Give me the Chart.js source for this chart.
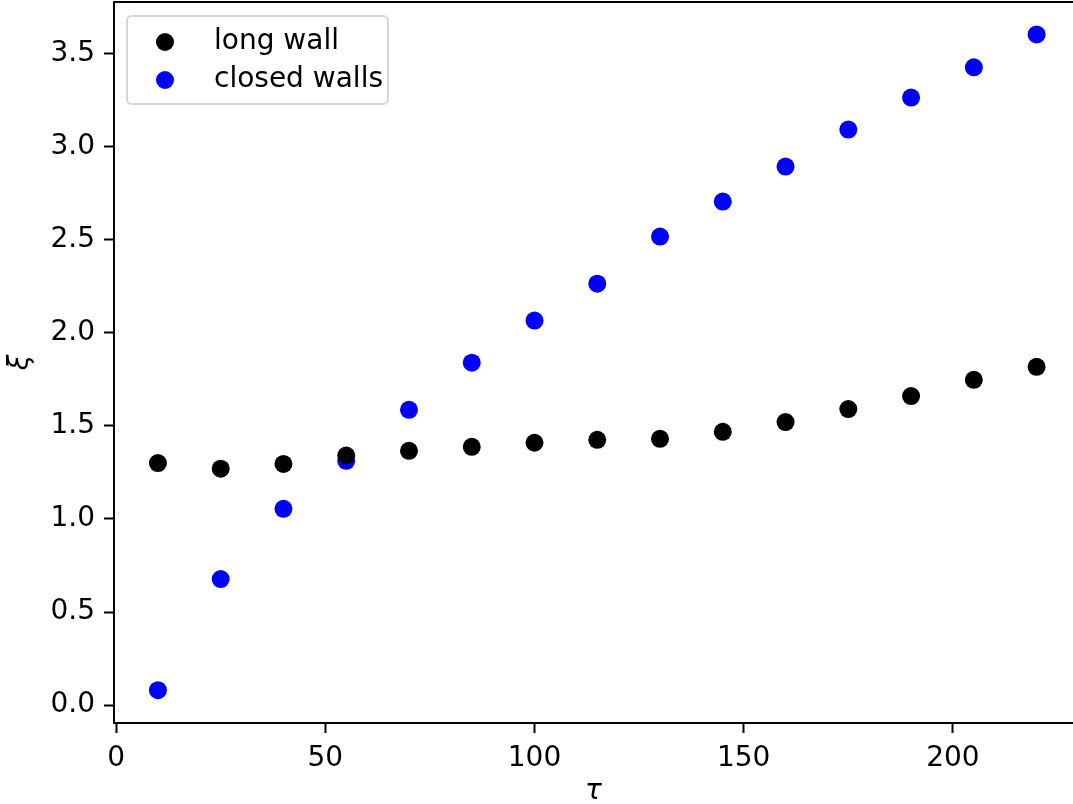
<!DOCTYPE html>
<html>
<head>
<meta charset="utf-8">
<script src="https://cdn.jsdelivr.net/npm/chart.js@4.4.1/dist/chart.umd.min.js"></script>
<style>
  html, body { margin: 0; padding: 0; background: #fff; }
  #wrap { width: 1073px; height: 804px; }
</style>
</head>
<body>
<div id="wrap"><canvas id="c" width="1073" height="804"></canvas></div>
<script>
const tau = [10, 25, 40, 55, 70, 85, 100, 115, 130, 145, 160, 175, 190, 205, 220]
const longWall = [1.30, 1.27, 1.295, 1.34, 1.366, 1.387, 1.409, 1.425, 1.43, 1.468, 1.52, 1.59, 1.66, 1.747, 1.817]
const closedWalls = [0.08, 0.677, 1.054, 1.312, 1.586, 1.839, 2.065, 2.263, 2.516, 2.704, 2.892, 3.091, 3.263, 3.425, 3.602]
const seriesLabels = ['long wall', 'closed walls']
const seriesColors = ['#000000', '#0000ff']

const FONT = "'DejaVu Sans', sans-serif"
const toPoints = (ys) => tau.map((x, i) => ({ x: x, y: ys[i] }))

// top spine (right one falls just outside the picture) and the legend box
const framePlugin = {
  id: 'frame',
  afterDraw(chart) {
    const ctx = chart.ctx
    const a = chart.chartArea
    ctx.save()
    ctx.strokeStyle = '#000'
    ctx.lineWidth = 2
    ctx.beginPath()
    ctx.moveTo(a.left, a.top)
    ctx.lineTo(chart.width, a.top)
    ctx.stroke()

    // legend
    const x0 = 127, y0 = 16, w = 261, h = 88, r = 5
    ctx.beginPath()
    ctx.roundRect(x0, y0, w, h, r)
    ctx.fillStyle = 'rgba(255,255,255,0.8)'
    ctx.fill()
    ctx.strokeStyle = '#d6d6d6'
    ctx.lineWidth = 2
    ctx.stroke()
    ctx.font = '28px ' + FONT
    ctx.textBaseline = 'middle'
    chart.data.datasets.forEach((ds, i) => {
      const cy = y0 + 26 + i * 38
      ctx.beginPath()
      ctx.arc(165, cy, 9, 0, Math.PI * 2)
      ctx.fillStyle = ds.backgroundColor
      ctx.fill()
      ctx.fillStyle = '#000'
      ctx.fillText(ds.label, 214, cy)
    })
    ctx.restore()
  }
}

const tickStyle = {
  color: '#000',
  font: { family: FONT, size: 28 },
  padding: 9
}

new Chart(document.getElementById('c'), {
  type: 'scatter',
  data: {
    datasets: [
      { label: seriesLabels[0], data: toPoints(longWall), backgroundColor: seriesColors[0], borderColor: seriesColors[0], pointRadius: 9, borderWidth: 0 },
      { label: seriesLabels[1], data: toPoints(closedWalls), backgroundColor: seriesColors[1], borderColor: seriesColors[1], pointRadius: 9, borderWidth: 0 }
    ]
  },
  options: {
    responsive: false,
    animation: false,
    layout: { autoPadding: false, padding: { top: 2, right: 0, left: 0, bottom: 0 } },
    plugins: { legend: { display: false }, tooltip: { enabled: false } },
    scales: {
      x: {
        type: 'linear',
        min: -0.5,
        max: 228.7,
        ticks: { ...tickStyle, stepSize: 50, includeBounds: false, callback: (v) => v.toFixed(0) },
        grid: { drawOnChartArea: false, tickLength: 10, tickWidth: 2, color: '#000' },
        border: { display: true, color: '#000', width: 2 },
        title: { display: true, text: 'τ', color: '#000', font: { family: FONT, size: 28, style: 'italic' }, padding: { top: 0, bottom: -5 } },
        afterFit(scale) {
          scale.height = 81
          scale.paddingLeft = 0
          scale.paddingRight = 0
        }
      },
      y: {
        type: 'linear',
        min: -0.096,
        max: 3.776,
        ticks: { ...tickStyle, stepSize: 0.5, includeBounds: false, callback: (v) => v.toFixed(1) },
        grid: { drawOnChartArea: false, tickLength: 10, tickWidth: 2, color: '#000' },
        border: { display: true, color: '#000', width: 2 },
        title: { display: true, text: 'ξ', color: '#000', font: { family: FONT, size: 28, style: 'italic' }, padding: { top: 4, bottom: 0 } },
        afterFit(scale) {
          scale.width = 114
          scale.paddingTop = 0
          scale.paddingBottom = 0
        }
      }
    }
  },
  plugins: [framePlugin]
})
</script>
</body>
</html>
